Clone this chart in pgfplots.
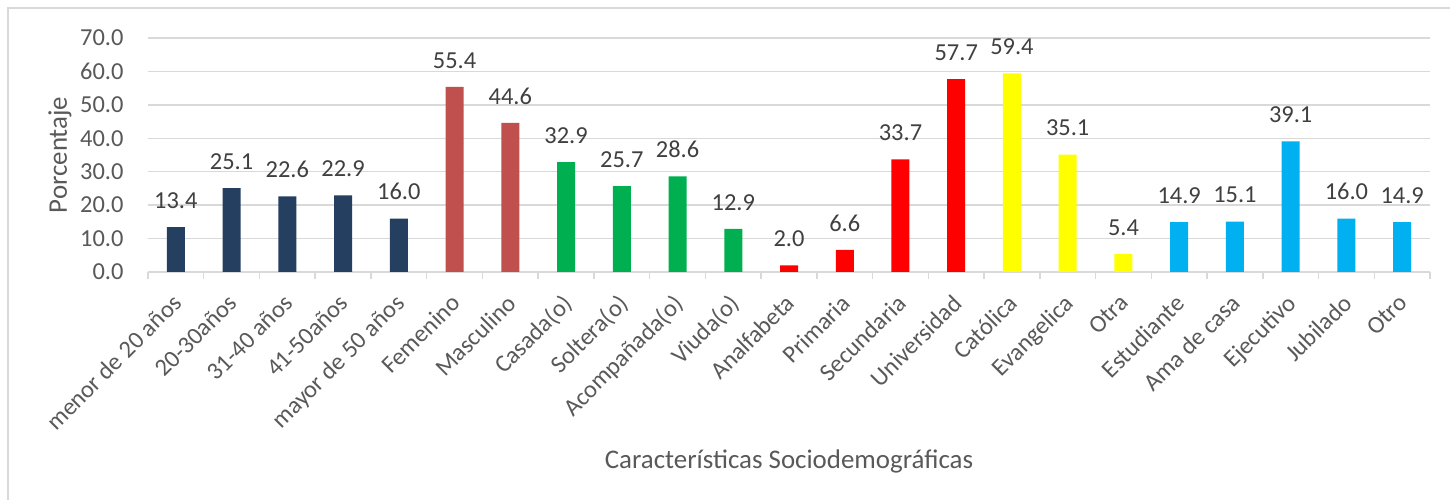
\documentclass[border=0pt]{standalone}
\usepackage{pgfplots}
\pgfplotsset{compat=1.18}
\usepackage{fontspec}
\setmainfont{Carlito}
\definecolor{cnavy}{HTML}{243F60}
\definecolor{cbrown}{HTML}{C0504D}
\definecolor{cgreen}{HTML}{00B050}
\definecolor{cred}{HTML}{FF0000}
\definecolor{cyellow}{HTML}{FFFF00}
\definecolor{ccyan}{HTML}{00B0F0}
\definecolor{cgrid}{HTML}{D9D9D9}
\definecolor{ctick}{HTML}{595959}
\definecolor{clbl}{HTML}{404040}
\begin{document}
\begin{tikzpicture}[x=1bp,y=1bp]
\useasboundingbox (0,0) rectangle (1450,500);
\fill[white] (0,0) rectangle (1450,500);
\draw[color=cgrid, line width=1.5bp] (8,-20) rectangle (1470,492);
\begin{axis}[
  at={(148bp,228bp)}, anchor=south west,
  scale only axis, width=1282bp, height=234bp,
  xmin=-0.5, xmax=22.5, ymin=0, ymax=70,
  enlargelimits=false, clip=false,
  axis x line*=bottom, axis y line*=left,
  y axis line style={draw=none},
  x axis line style={color=cgrid, line width=1.5bp},
  ytick={0,10,...,70},
  ymajorgrids, grid style={color=cgrid, line width=1.3bp},
  major tick length=0pt,
  xtick={0,...,22},
  minor xtick={-0.5,0.5,...,22.5},
  minor tick length=7bp,
  tick align=outside,
  minor tick style={color=cgrid, line width=1.5bp},
  xticklabels={menor de 20 años,20-30años,31-40 años,41-50años,mayor de 50 años,Femenino,Masculino,Casada(o),Soltera(o),Acompañada(o),Viuda(o),Analfabeta,Primaria,Secundaria,Universidad,Católica,Evangelica,Otra,Estudiante,Ama de casa,Ejecutivo,Jubilado,Otro},
  every x tick label/.style={xshift=-5bp, yshift=-16bp, rotate=45, anchor=north east, font=\fontsize{24.5}{28}\selectfont, color=ctick},
  every y tick label/.style={anchor=east, xshift=-21bp, font=\fontsize{24.5}{28}\selectfont, color=ctick},
  /pgf/number format/fixed, /pgf/number format/zerofill, /pgf/number format/precision=1, /pgf/number format/assume math mode=true,
  nodes near coords,
  nodes near coords style={font=\fontsize{24.5}{28}\selectfont, color=clbl, yshift=15bp},
  ylabel={Porcentaje},
  every axis y label/.style={at={(axis description cs:-0.0686,0.5)}, rotate=90, anchor=center, font=\fontsize{27}{30}\selectfont, color=ctick},
  xlabel={Características Sociodemográficas},
  every axis x label/.style={at={(axis description cs:0.5,-0.81)}, anchor=center, font=\fontsize{27}{30}\selectfont, color=ctick},
]
\addplot[ybar, bar width=18bp, bar shift=0pt, fill=cnavy, draw=none] coordinates {(0,13.4)(1,25.1)(2,22.6)(3,22.9)(4,16.0)};
\addplot[ybar, bar width=18bp, bar shift=0pt, fill=cbrown, draw=none] coordinates {(5,55.4)(6,44.6)};
\addplot[ybar, bar width=18bp, bar shift=0pt, fill=cgreen, draw=none] coordinates {(7,32.9)(8,25.7)(9,28.6)(10,12.9)};
\addplot[ybar, bar width=18bp, bar shift=0pt, fill=cred, draw=none] coordinates {(11,2.0)(12,6.6)(13,33.7)(14,57.7)};
\addplot[ybar, bar width=18bp, bar shift=0pt, fill=cyellow, draw=none] coordinates {(15,59.4)(16,35.1)(17,5.4)};
\addplot[ybar, bar width=18bp, bar shift=0pt, fill=ccyan, draw=none] coordinates {(18,14.9)(19,15.1)(20,39.1)(21,16.0)(22,14.9)};
\end{axis}
\end{tikzpicture}
\end{document}
